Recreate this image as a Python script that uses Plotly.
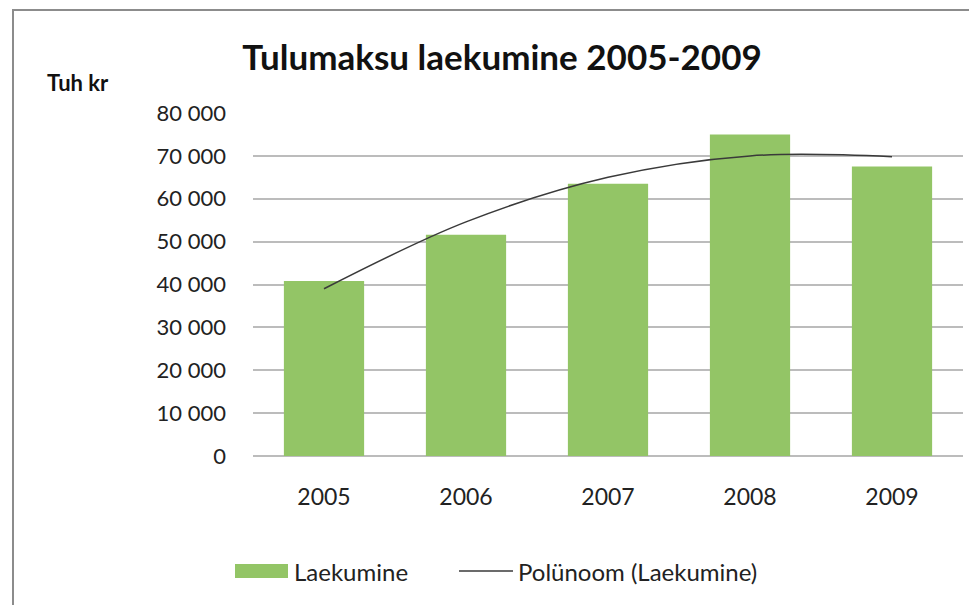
import plotly.graph_objects as go

years = ["2005", "2006", "2007", "2008", "2009"]
laekumine = [40800, 51600, 63500, 75000, 67500]
trend = [39000, 54600, 65000, 70000, 69800]
y_tickvals = [0, 10000, 20000, 30000, 40000, 50000, 60000, 70000, 80000]
y_ticktext = ["0", "10 000", "20 000", "30 000", "40 000", "50 000", "60 000", "70 000", "80 000"]
series_names = ["Laekumine", "Polünoom (Laekumine)"]

FONT = "Lato"
BAR_COLOR = "#93C566"
LINE_COLOR = "#3a3a3a"
OFF = 8  # page body margin
W, H = 969, 597
L, R, T, B = 245, 14, 105, 149
pw, ph = W - L - R, H - T - B


def px(xr):
    return (xr - OFF - L) / pw


def py(yr):
    return (H - B - (yr - OFF)) / ph


fig = go.Figure()
fig.add_trace(go.Bar(x=years, y=laekumine, name=series_names[0], showlegend=False,
                     marker=dict(color=BAR_COLOR, line=dict(width=0))))
fig.add_trace(go.Scatter(x=years, y=trend, name=series_names[1], showlegend=False,
                         mode="lines", line=dict(color=LINE_COLOR, width=1.5, shape="spline")))

shapes = [
    dict(type="rect", xref="paper", yref="paper",
         x0=px(13), y0=py(10), x1=3, y1=-3,
         line=dict(color="#8c8c8c", width=2), fillcolor="rgba(0,0,0,0)", layer="below"),
    # legend swatches
    dict(type="rect", xref="paper", yref="paper", x0=px(235), x1=px(288), y0=py(564), y1=py(578),
         line=dict(width=0), fillcolor=BAR_COLOR),
    dict(type="line", xref="paper", yref="paper", x0=px(459), x1=px(513), y0=py(571), y1=py(571),
         line=dict(color=LINE_COLOR, width=1.5)),
]

annotations = [
    dict(text="<b>Tuh kr</b>", xref="paper", yref="paper",
         x=px(45), y=py(83), xanchor="left", yanchor="middle",
         showarrow=False, font=dict(size=22, color="#111111")),
    dict(text=series_names[0], xref="paper", yref="paper", x=px(292), y=py(571),
         xanchor="left", yanchor="middle", showarrow=False, font=dict(size=24, color="#222222")),
    dict(text=series_names[1], xref="paper", yref="paper", x=px(516), y=py(571),
         xanchor="left", yanchor="middle", showarrow=False, font=dict(size=24, color="#222222")),
]

fig.update_layout(
    width=W, height=H,
    margin=dict(l=L, r=R, t=T, b=B),
    paper_bgcolor="white", plot_bgcolor="white",
    font=dict(family=FONT, color="#222222", size=22),
    bargap=0.435,
    title=dict(text="<b>Tulumaksu laekumine 2005-2009</b>", xref="container", yref="container",
               x=(502 - OFF) / W, y=1 - (58 - OFF) / H, xanchor="center", yanchor="middle",
               font=dict(family=FONT, size=35, color="#111111")),
    showlegend=False,
    xaxis=dict(showgrid=False, showline=False, ticks="", tickfont=dict(size=23),
               ticklabelstandoff=25),
    yaxis=dict(range=[0, 80000], tickvals=y_tickvals, ticktext=y_ticktext,
               showgrid=True, gridcolor="#bcbcbc", gridwidth=2, zeroline=True,
               zerolinecolor="#bcbcbc", zerolinewidth=2, showline=False, ticks="",
               tickfont=dict(size=22), ticklabelstandoff=26),
    annotations=annotations,
    shapes=shapes,
)

fig.write_html("out.html")
